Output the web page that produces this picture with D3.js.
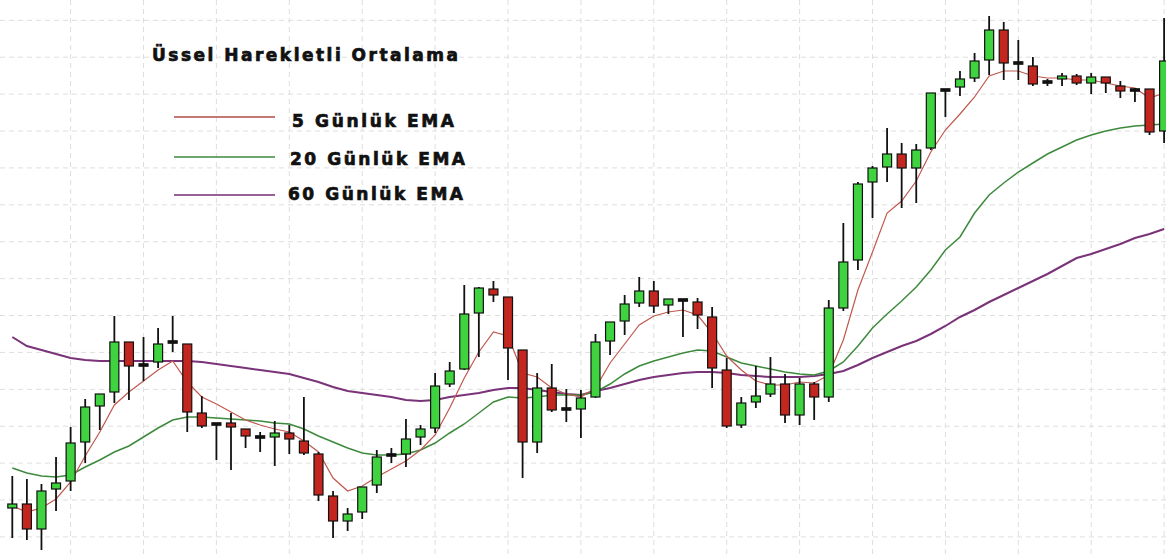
<!DOCTYPE html>
<html>
<head>
<meta charset="utf-8">
<script src="https://cdnjs.cloudflare.com/ajax/libs/d3/7.8.5/d3.min.js"></script>
<style>
  body { margin: 0; background: #fff; }
  svg { display: block; }
</style>
</head>
<body>
<div id="chart"></div>
<script>
// Data (price units)
const open = [92,96,71,111,119,158,194,208,258,235,238,258,256,187,176,177,171,163,163,167,159,146,104,79,88,115,145,146,163,172,216,231,287,311,303,250,158,212,191,191,203,259,279,297,309,295,300,298,283,230,175,198,206,216,185,216,203,292,340,418,433,446,432,452,510,513,522,540,570,537,534,518,521,524,517,523,514,510,511,469]
const high = [124,121,116,143,173,201,206,284,258,263,272,284,256,204,176,187,171,168,179,175,203,148,109,92,113,150,152,181,175,227,238,315,313,319,303,250,227,236,211,210,266,278,305,323,319,301,300,302,293,242,203,234,243,226,222,218,300,377,418,434,472,457,456,507,510,529,547,584,578,560,543,521,527,526,527,523,519,512,511,582]
const low = [62,60,50,89,109,137,170,197,200,219,232,248,168,172,140,130,152,148,134,146,145,99,62,69,81,107,137,133,155,167,213,230,243,298,220,122,147,188,178,162,202,245,265,293,287,286,263,271,212,172,172,192,203,177,175,180,198,289,330,382,418,392,397,450,483,504,518,525,520,520,514,514,514,515,506,507,502,498,465,457]
const close = [96,71,109,117,157,193,206,258,234,235,256,258,188,174,176,173,164,163,167,161,147,105,79,86,113,143,145,161,171,214,229,286,312,305,252,158,212,190,191,202,258,278,296,309,294,301,300,285,232,174,197,204,216,185,216,203,292,338,416,432,446,432,450,507,510,521,539,570,537,537,516,518,524,517,523,517,509,510,468,539]

const ema5 = [94,88,92,101,118,144,168,195,208,219,230,239,218,203,196,188,180,175,171,168,159,148,122,109,114,123,131,139,150,165,192,222,248,268,264,227,223,212,206,203,212,237,256,275,284,288,290,285,267,244,230,219,215,215,218,217,225,260,310,348,387,399,419,448,470,486,503,524,529,529,524,522,522,520,520,517,514,512,502,507]
const ema20 = [132,127,124,123,125,133,140,148,154,163,172,180,183,183,182,181,180,179,177,176,171,164,158,152,147,145,145,146,150,157,167,176,187,198,203,202,203,205,205,205,208,216,226,234,239,243,247,250,249,243,237,234,231,228,226,225,229,238,254,272,286,299,313,330,350,363,387,405,417,428,437,446,453,460,465,469,472,474,475,476]
const ema60 = [263,254,250,246,242,240,239,239,239,239,239,239,239,238,236,234,232,230,228,226,222,218,213,209,207,205,203,200,199,200,203,205,207,210,212,212,210,208,206,205,209,212,216,220,223,225,227,228,228,227,225,224,223,223,223,224,226,229,235,242,248,254,259,266,274,283,290,298,305,312,319,326,334,342,346,351,356,362,366,371]

const title = 'Üssel Harekletli Ortalama'
const legendLabels = ['5 Günlük EMA', '20 Günlük EMA', '60 Günlük EMA']

function draw() {
  // Dimensions
  let dimensions = {
    width: 1166,
    height: 554,
  }

  const svg = d3.select('#chart')
    .append('svg')
    .attr('width', dimensions.width)
    .attr('height', dimensions.height)
    .style('background', '#fff')

  const days = d3.range(open.length)

  // Scales
  const xScale = d3.scaleLinear()
    .domain([0, days.length - 1])
    .range([12.3, 1164.1])

  const yScale = d3.scaleLinear()
    .domain([46, 600])
    .range([dimensions.height, 0])

  // grid
  const grid = svg.append('g')
    .attr('stroke', '#dedede')
    .attr('stroke-width', 1)
    .attr('stroke-dasharray', '5,4')

  grid.selectAll('line.v')
    .data(days.filter(i => i % 5 === 4))
    .join('line')
    .attr('class', 'v')
    .attr('x1', d => xScale(d))
    .attr('x2', d => xScale(d))
    .attr('y1', 0)
    .attr('y2', dimensions.height)

  grid.selectAll('line.h')
    .data(d3.range(20.3, dimensions.height, 36.9))
    .join('line')
    .attr('class', 'h')
    .attr('x1', 0)
    .attr('x2', dimensions.width)
    .attr('y1', d => d)
    .attr('y2', d => d)

  // EMA lines
  const lines = [
    { values: ema60, color: '#7a3278', width: 2 },
    { values: ema20, color: '#3d8a3d', width: 1.5 },
    { values: ema5, color: '#c0584e', width: 1.2 },
  ]

  const lineGen = d3.line()
    .x((d, i) => xScale(i))
    .y(d => yScale(d))

  svg.append('g')
    .selectAll('path')
    .data(lines)
    .join('path')
    .attr('d', d => lineGen(d.values))
    .attr('fill', 'none')
    .attr('stroke', d => d.color)
    .attr('stroke-width', d => d.width)

  // candles
  const candles = svg.append('g')

  candles.selectAll('line')
    .data(days)
    .join('line')
    .attr('x1', d => xScale(d))
    .attr('x2', d => xScale(d))
    .attr('y1', d => yScale(high[d]))
    .attr('y2', d => yScale(low[d]))
    .attr('stroke', '#111')
    .attr('stroke-width', 1.8)

  const bodyW = 9
  candles.selectAll('rect')
    .data(days)
    .join('rect')
    .attr('x', d => xScale(d) - bodyW / 2)
    .attr('width', bodyW)
    .attr('y', d => open[d] === close[d]
      ? yScale(open[d]) - 1.2
      : yScale(Math.max(open[d], close[d])))
    .attr('height', d => open[d] === close[d]
      ? 2.4
      : Math.abs(yScale(open[d]) - yScale(close[d])))
    .attr('fill', d => {
      if (open[d] === close[d]) return '#111'
      return close[d] > open[d] ? '#3fd43f' : '#c3261f'
    })
    .attr('stroke', '#111')
    .attr('stroke-width', 1.2)

  // legend
  const legend = svg.append('g')
    .style('font-family', '"DejaVu Sans", Verdana, sans-serif')
    .style('font-weight', 'bold')
    .style('font-size', '17px')
    .attr('fill', '#111')
    .attr('stroke', '#111')
    .attr('stroke-width', 0.7)

  legend.append('text')
    .attr('x', 152)
    .attr('y', 61)
    .attr('textLength', 306)
    .attr('lengthAdjust', 'spacing')
    .text(title)

  const legendColors = ['#b04a44', '#3d8a3d', '#742c72']
  const legendRows = [
    { lineY: 117, textY: 127, textX: 292, len: 162 },
    { lineY: 157, textY: 165, textX: 290, len: 175 },
    { lineY: 195, textY: 200, textX: 288, len: 175 },
  ]

  const rows = legend.selectAll('g.row')
    .data(legendLabels)
    .join('g')
    .attr('class', 'row')

  rows.append('line')
    .attr('x1', 174)
    .attr('x2', 275)
    .attr('y1', (d, i) => legendRows[i].lineY)
    .attr('y2', (d, i) => legendRows[i].lineY)
    .attr('stroke', (d, i) => legendColors[i])
    .attr('stroke-width', 1.6)

  rows.append('text')
    .attr('x', (d, i) => legendRows[i].textX)
    .attr('y', (d, i) => legendRows[i].textY)
    .attr('textLength', (d, i) => legendRows[i].len)
    .attr('lengthAdjust', 'spacing')
    .text(d => d)
}

draw()
</script>
</body>
</html>
